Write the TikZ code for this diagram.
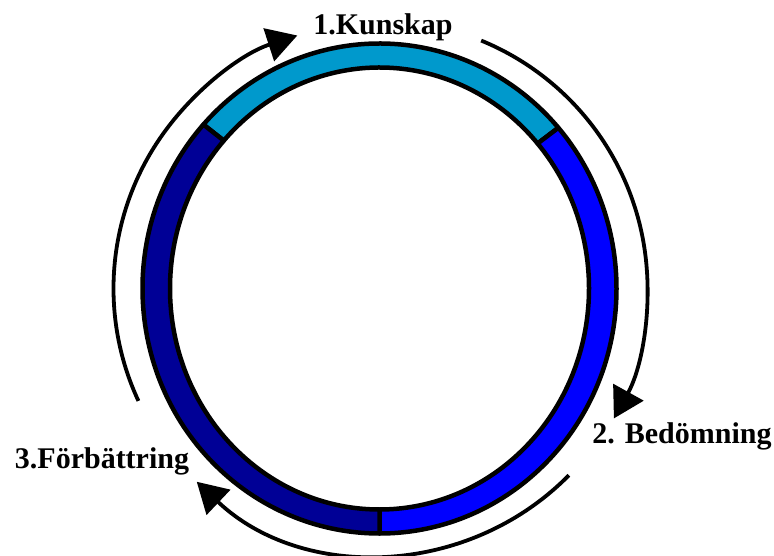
\documentclass[tikz,border=0pt]{standalone}
\usepackage{fontspec}
\setmainfont{Liberation Serif}
\usetikzlibrary{arrows.meta}
\definecolor{kcyan}{HTML}{0099CC}
\definecolor{kblue}{HTML}{0000FF}
\definecolor{knavy}{HTML}{000096}
\begin{document}
\begin{tikzpicture}[x=1pt,y=1pt,
  segment/.style={draw=black,line width=4.5pt,line join=round},
  cycarrow/.style={draw=black,line width=3.8pt,-{Triangle[length=30pt,width=34pt]}},
  cyclabel/.style={anchor=base,font=\bfseries\fontsize{30}{36}\selectfont,text=black,inner sep=0pt}]
  \useasboundingbox (0,0) rectangle (774,555);
  \coordinate (c) at (379.5,266.5);
  % ring segments: outer ellipse 237 x 245, inner ellipse 209.5 x 221
  \filldraw[segment,fill=kcyan] (c) ++(41:237pt and 245pt)
    arc[start angle=41,end angle=138,x radius=237pt,y radius=245pt]
    -- ([shift={(138:209.5pt and 221pt)}]c)
    arc[start angle=138,end angle=41,x radius=209.5pt,y radius=221pt] -- cycle;
  \filldraw[segment,fill=kblue] (c) ++(-90:237pt and 245pt)
    arc[start angle=-90,end angle=41,x radius=237pt,y radius=245pt]
    -- ([shift={(41:209.5pt and 221pt)}]c)
    arc[start angle=41,end angle=-90,x radius=209.5pt,y radius=221pt] -- cycle;
  \filldraw[segment,fill=knavy] (c) ++(138:237pt and 245pt)
    arc[start angle=138,end angle=270,x radius=237pt,y radius=245pt]
    -- ([shift={(270:209.5pt and 221pt)}]c)
    arc[start angle=270,end angle=138,x radius=209.5pt,y radius=221pt] -- cycle;
  % cycle arrows around the ring
  \draw[cycarrow] (c) ++(205:266pt) arc[start angle=205,end angle=108,radius=266pt];
  \draw[cycarrow] (c) ++(67.7:268pt) arc[start angle=67.7,end angle=-29,radius=268pt];
  \draw[cycarrow] (c) ++(-44.6:266pt) arc[start angle=-44.6,end angle=-133.4,radius=266pt];
  % stage labels
  \node[cyclabel] (kunskap) at (383,520) {1.Kunskap};
  \node[cyclabel] (bedomning) at (682,112) {2. Bedömning};
  \node[cyclabel] (forbattring) at (102,87) {3.Förbättring};
\end{tikzpicture}
\end{document}
